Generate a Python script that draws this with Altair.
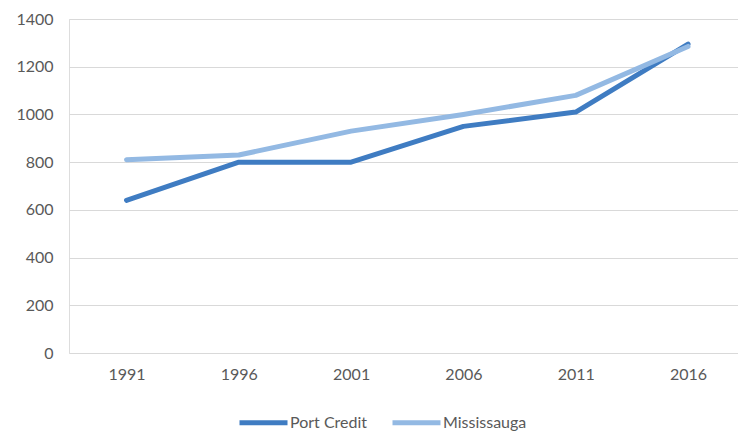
import altair as alt
import pandas as pd

# Census years and the two series plotted against them
years = ["1991", "1996", "2001", "2006", "2011", "2016"]
port_credit = [640, 800, 800, 950, 1010, 1295]
mississauga = [810, 830, 930, 1000, 1080, 1285]
series_names = ["Port Credit", "Mississauga"]
series_colors = ["#3f7cc2", "#93b9e3"]
y_ticks = [0, 200, 400, 600, 800, 1000, 1200, 1400]

rows = []
for name, values in zip(series_names, [port_credit, mississauga]):
    for yr, v in zip(years, values):
        rows.append({"year": yr, "value": v, "series": name})
df = pd.DataFrame(rows)

FONT = "Lato"
GREY = "#595959"

chart = (
    alt.Chart(df)
    .mark_line(strokeWidth=5, strokeCap="round", strokeJoin="round")
    .encode(
        x=alt.X(
            "year:O",
            sort=years,
            title=None,
            scale=alt.Scale(type="point", padding=0.4786, align=0.535),
            axis=alt.Axis(
                labelAngle=0,
                domain=False,
                ticks=False,
                grid=False,
                labelPadding=13,
                labelFontSize=16,
                labelColor=GREY,
                labelFont=FONT,
            ),
        ),
        y=alt.Y(
            "value:Q",
            title=None,
            scale=alt.Scale(domain=[0, 1400], nice=False, zero=True),
            axis=alt.Axis(
                values=y_ticks,
                format="d",
                domain=False,
                ticks=False,
                gridColor="#d9d9d9",
                gridWidth=1,
                labelPadding=16,
                labelFontSize=16,
                labelColor=GREY,
                labelFont=FONT,
            ),
        ),
        color=alt.Color(
            "series:N",
            sort=series_names,
            scale=alt.Scale(domain=series_names, range=series_colors),
            legend=alt.Legend(
                title=None,
                orient="none",
                direction="horizontal",
                legendX=168,
                legendY=377,
                padding=0,
                symbolType="stroke",
                symbolSize=2304,
                symbolStrokeWidth=5,
                labelOffset=0,
                columnPadding=14,
                labelFontSize=16,
                labelColor=GREY,
                labelFont=FONT,
            ),
        ),
        order=alt.Order("year:O"),
    )
    .properties(
        width=669,
        height=334,
        padding={"left": 69, "top": 19, "right": 0, "bottom": 79},
        autosize=alt.AutoSizeParams(type="none"),
    )
    .configure_view(stroke=None)
    .configure(background="white")
)

chart.save("out.html", embed_options={"renderer": "svg", "actions": False})
